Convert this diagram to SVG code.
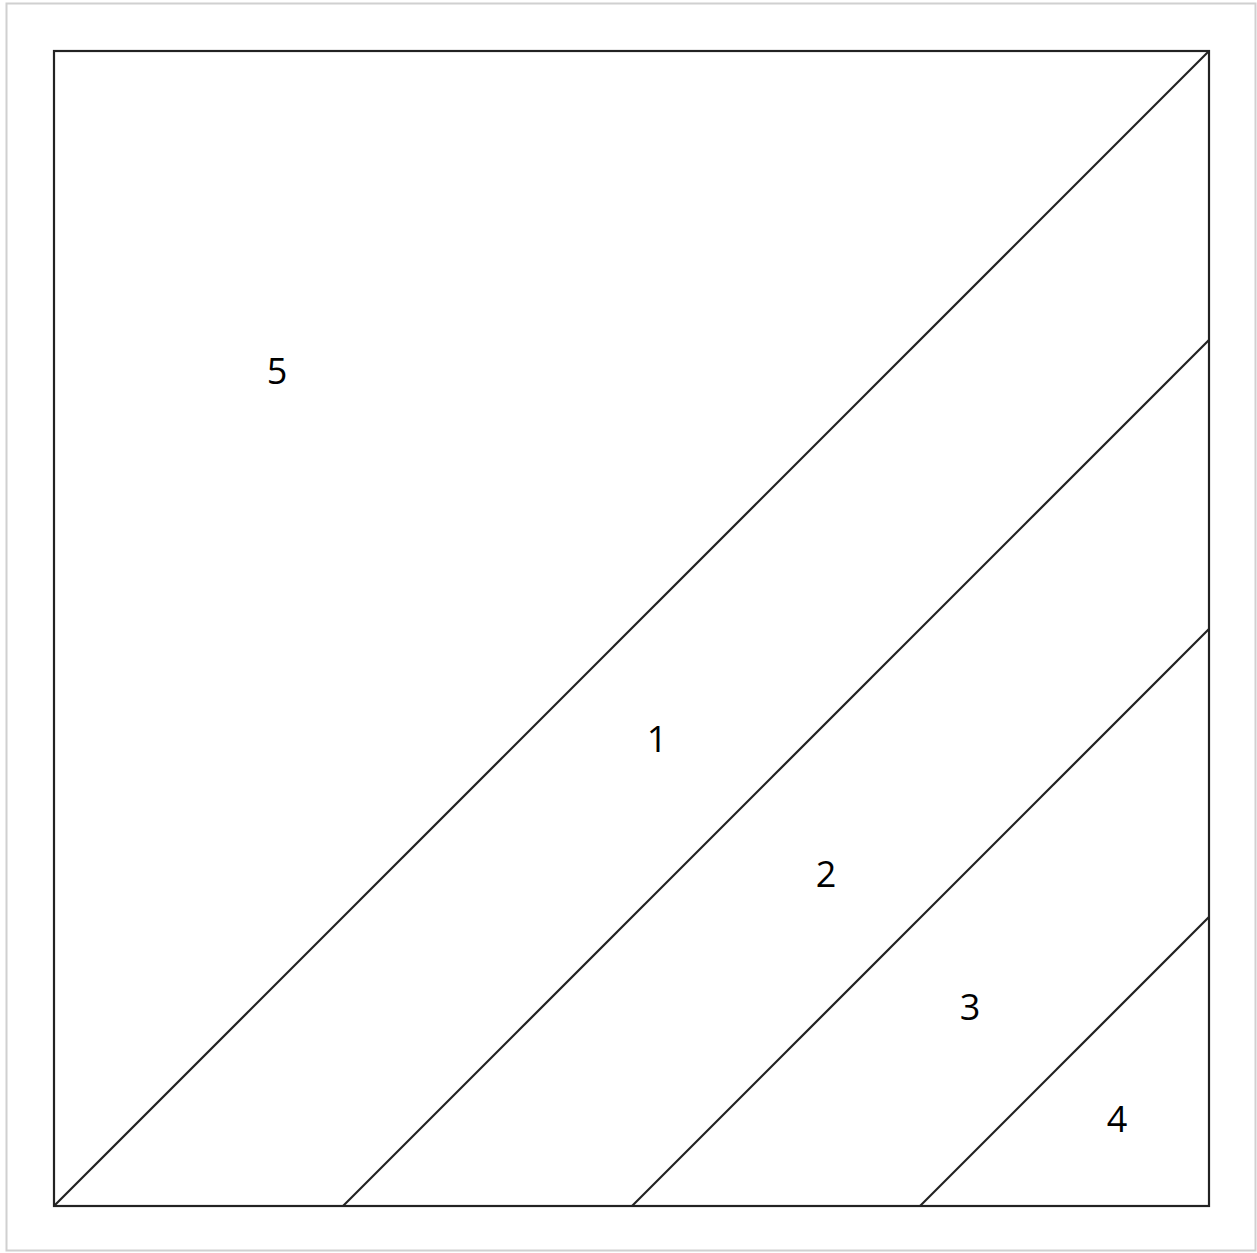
<svg xmlns="http://www.w3.org/2000/svg" width="1257" height="1253" viewBox="0 0 1257 1253">
<style>
.frame{fill:none;stroke:#d0d0d0;stroke-width:2}
.sq{fill:none;stroke:#222;stroke-width:2.2}
.ln{stroke:#222;stroke-width:2.2;fill:none}
.lbl{font-family:"Open Sans","Noto Sans",sans-serif;font-size:36px;fill:#000;text-anchor:middle}
</style>
<rect x="0" y="0" width="1257" height="1253" fill="#fff"/>
<rect class="frame" x="6.5" y="3.5" width="1249" height="1247"/>
<g id="square"><rect class="sq" x="54" y="51" width="1155" height="1155"/></g>
<g id="connectors">
<line class="ln" x1="54" y1="1206" x2="1209" y2="51"/>
<line class="ln" x1="343" y1="1206" x2="1209" y2="340"/>
<line class="ln" x1="632" y1="1206" x2="1209" y2="629"/>
<line class="ln" x1="920" y1="1206" x2="1209" y2="917"/>
</g>
<g id="region5"><text class="lbl" x="277" y="384">5</text></g>
<g id="region1"><text class="lbl" x="657" y="752">1</text></g>
<g id="region2"><text class="lbl" x="826" y="887">2</text></g>
<g id="region3"><text class="lbl" x="970" y="1020">3</text></g>
<g id="region4"><text class="lbl" x="1117" y="1132">4</text></g>
</svg>
